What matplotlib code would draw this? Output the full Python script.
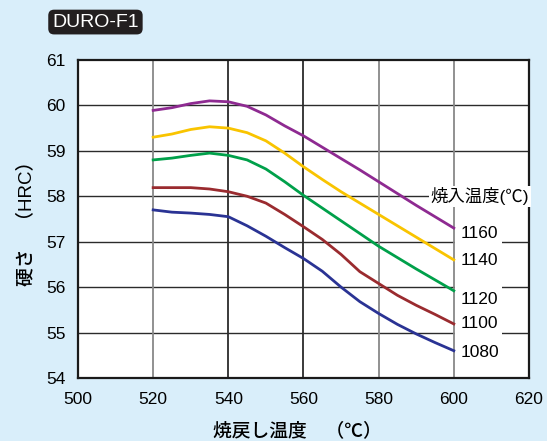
import numpy as np
import matplotlib.pyplot as plt
from matplotlib.patches import Rectangle

plt.rcParams['font.family'] = ['Liberation Sans', 'Noto Sans CJK JP']

# tempering temperature (C)
temper = [520, 525, 530, 535, 540, 545, 550, 555, 560, 565, 570, 575, 580, 585, 590, 595, 600]

# hardness (HRC) for each quenching temperature
hrc_1160 = [59.89, 59.95, 60.04, 60.10, 60.08, 59.98, 59.79, 59.55, 59.33, 59.08, 58.83, 58.58, 58.32, 58.06, 57.80, 57.55, 57.30]
hrc_1140 = [59.30, 59.37, 59.47, 59.53, 59.50, 59.40, 59.22, 58.95, 58.65, 58.37, 58.10, 57.85, 57.60, 57.35, 57.10, 56.85, 56.60]
hrc_1120 = [58.80, 58.84, 58.90, 58.95, 58.90, 58.80, 58.60, 58.32, 58.02, 57.74, 57.46, 57.18, 56.90, 56.65, 56.40, 56.16, 55.92]
hrc_1100 = [58.19, 58.19, 58.19, 58.16, 58.10, 58.00, 57.85, 57.60, 57.33, 57.05, 56.72, 56.34, 56.08, 55.82, 55.60, 55.40, 55.19]
hrc_1080 = [57.70, 57.65, 57.63, 57.60, 57.55, 57.35, 57.12, 56.87, 56.63, 56.35, 56.00, 55.68, 55.42, 55.18, 54.97, 54.78, 54.60]

series = [('1160', hrc_1160, '#8e2a91'),
          ('1140', hrc_1140, '#f9c400'),
          ('1120', hrc_1120, '#00a04a'),
          ('1100', hrc_1100, '#9a2b2f'),
          ('1080', hrc_1080, '#2a3394')]
label_y = [57.17, 56.58, 55.72, 55.21, 54.55]

bg = '#d9eefa'
fig = plt.figure(figsize=(5.47, 4.41), dpi=100, facecolor=bg)
ax = fig.add_axes([0.1426, 0.1429, 0.8244, 0.7211])
ax.set_facecolor('white')

# grid drawn by hand so the label column can cut the horizontal lines
for y in [55, 56, 57, 58, 59, 60]:
    ax.axhline(y, color='#2b2b2b', lw=1.0, zorder=1)
for x, c in [(520, '#888888'), (540, '#2b2b2b'), (560, '#2b2b2b'), (580, '#888888')]:
    ax.axvline(x, color=c, lw=1.3, zorder=1)
ax.add_patch(Rectangle((600.3, 54.35), 12.4, 3.35, facecolor='white', edgecolor='none', zorder=1.5))
ax.axvline(600, color='#888888', lw=1.3, zorder=2)

for name, vals, col in series:
    ax.plot(temper, vals, color=col, lw=2.0, zorder=3)

for (name, vals, col), ly in zip(series, label_y):
    ax.text(601.8, ly, name, fontsize=12.5, ha='left', va='center', zorder=4)
ax.text(593.9, 58.0, '焼入温度(℃)', fontsize=12.5, ha='left', va='center', zorder=4,
        bbox=dict(facecolor='white', edgecolor='none', pad=1))

ax.set_xlim(500, 620)
ax.set_ylim(54, 61)
ax.set_xticks([500, 520, 540, 560, 580, 600, 620])
ax.set_yticks([54, 55, 56, 57, 58, 59, 60, 61])
ax.tick_params(axis='both', length=0, labelsize=12.5)
ax.tick_params(axis='x', pad=10)
ax.tick_params(axis='y', pad=9)
for s in ax.spines.values():
    s.set_linewidth(1.6)
    s.set_color('#1a1a1a')

fig.text(0.543, 0.023, '焼戻し温度　（℃）', fontsize=13.5, fontweight=500, ha='center', va='center')
ax.set_ylabel('硬さ　（HRC）', fontsize=13.5, fontweight=500, labelpad=8)

fig.text(0.1745, 0.950, 'DURO-F1', color='white', fontsize=14, ha='center', va='center',
         bbox=dict(boxstyle='round,pad=0.2,rounding_size=0.3', facecolor='#231f20', edgecolor='none'))

plt.savefig('out.png', dpi=100, facecolor=bg)
